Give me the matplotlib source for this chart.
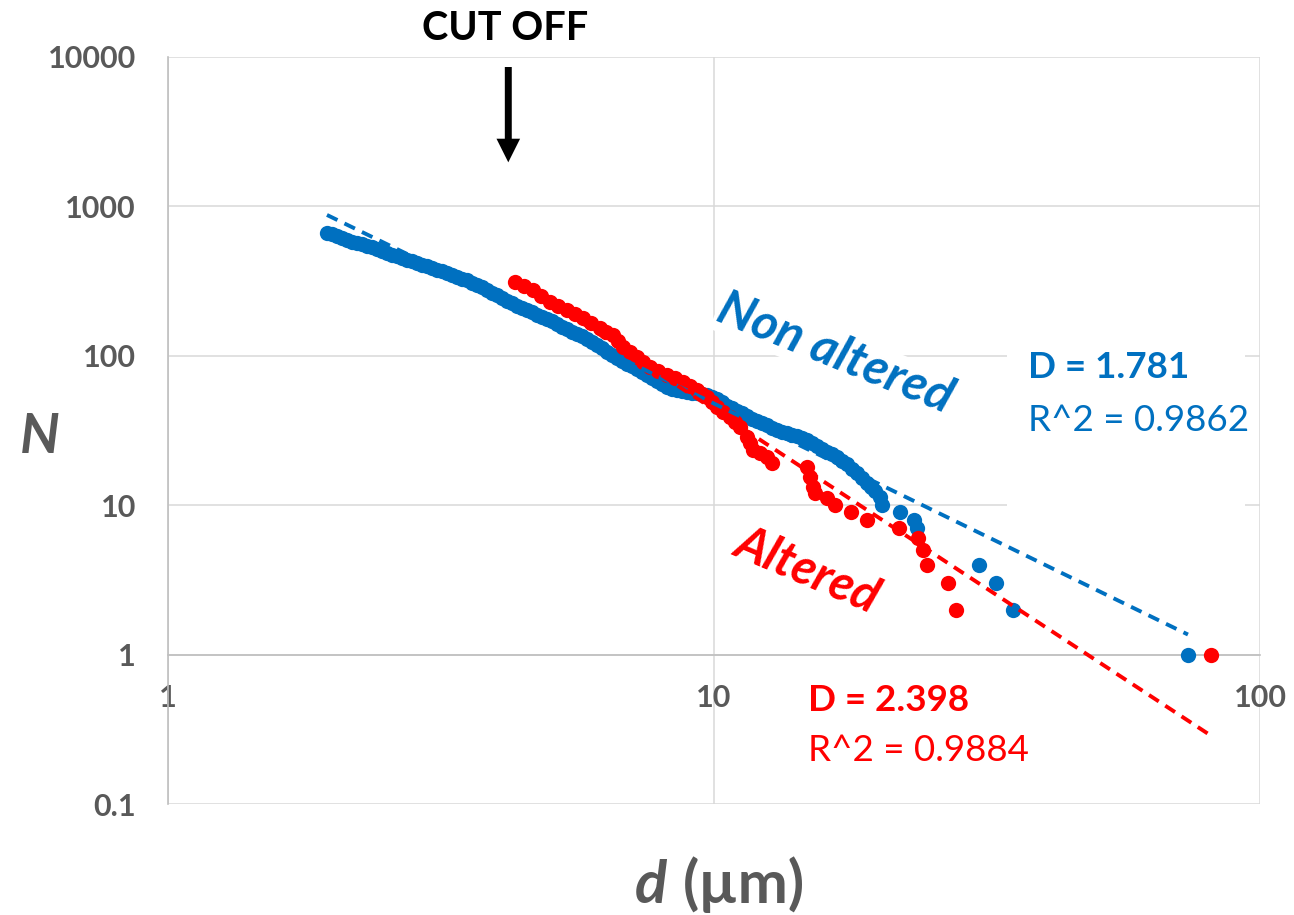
import numpy as np
import matplotlib.pyplot as plt
from matplotlib.patches import Rectangle
from matplotlib.ticker import NullLocator

plt.rcParams['font.family'] = ['Lato', 'DejaVu Sans']

# Non altered grains: diameter d (um) and cumulative number N
d_non = [1.955, 1.997, 2.040, 2.083, 2.127, 2.173, 2.219, 2.266, 2.314, 2.364,
         2.414, 2.466, 2.518, 2.572, 2.627, 2.683, 2.740, 2.798, 2.858, 2.919,
         2.981, 3.045, 3.110, 3.176, 3.243, 3.313, 3.383, 3.455, 3.529, 3.604,
         3.681, 3.760, 3.840, 3.922, 4.005, 4.090, 4.178, 4.266, 4.358, 4.451,
         4.546, 4.642, 4.742, 4.842, 4.946, 5.050, 5.160, 5.268, 5.382, 5.495,
         5.614, 5.731, 5.856, 5.979, 6.108, 6.236, 6.368, 6.505, 6.643, 6.785,
         6.930, 7.077, 7.228, 7.382, 7.540, 7.700, 7.864, 8.033, 8.203, 8.379,
         8.557, 8.740, 8.925, 9.116, 9.309, 9.507, 9.710, 9.916, 10.13, 10.34,
         10.56, 10.79, 11.02, 11.25, 11.49, 11.74, 11.99, 12.24, 12.50, 12.77,
         13.04, 13.32, 13.60, 13.90, 14.19, 14.50, 14.80, 15.12, 15.44, 15.77,
         16.11, 16.45, 16.80, 17.16, 17.52, 17.89, 18.28, 18.67, 19.06, 19.39,
         19.72, 20.14, 20.31, 21.9, 23.2, 23.5, 30.6, 32.9, 35.3, 73.8]
n_non = [664, 649, 634, 614, 596, 582, 569, 556, 543, 531,
         519, 503, 488, 476, 466, 451, 438, 428, 418, 408,
         399, 387, 375, 367, 358, 347, 337, 329, 322, 309,
         298, 287, 276, 265, 255, 244, 233, 224, 215, 209,
         203, 195, 188, 182, 176, 170, 163, 157, 151, 145,
         140, 135, 130, 124, 118, 112, 106, 101, 96.7, 92.3,
         88.1, 84.8, 81.6, 77.9, 74.4, 71.0, 67.8, 64.7, 61.8, 60.4,
         59.0, 58.1, 57.2, 56.8, 56.4, 55.5, 54.7, 53.0, 51.4, 48.7,
         46.1, 44.4, 42.7, 41.1, 39.5, 38.0, 36.6, 35.5, 34.4, 33.1,
         31.9, 31.1, 30.4, 29.7, 29.0, 28.2, 27.3, 26.1, 24.9, 23.8,
         22.7, 21.9, 21.0, 19.9, 18.9, 17.6, 16.4, 15.2, 14.1, 13.2,
         12.4, 11.3, 10, 9, 8, 7, 4, 3, 2, 1]

# Altered grains
d_alt = [4.32, 4.487, 4.66, 4.823, 5.01, 5.182, 5.38, 5.566, 5.76, 5.953,
         6.18, 6.342, 6.53, 6.672, 6.81, 7.019, 7.23, 7.413, 7.63, 7.898,
         8.20, 8.484, 8.77, 9.036, 9.31, 9.507, 9.71, 9.916, 10.13, 10.38,
         10.70, 10.93, 11.16, 11.49, 11.64, 11.79, 12.14, 12.50, 12.77, 14.80,
         14.99, 15.18, 15.31, 16.11, 16.66, 17.8, 19.1, 21.8, 23.6, 24.1,
         24.6, 26.8, 27.7, 81.3]
n_alt = [312, 293, 276, 251, 229, 215, 203, 190, 179, 166,
         153, 145, 138, 126, 115, 106, 98.2, 90.9, 84.1, 79.1,
         74.4, 70.5, 66.8, 62.8, 59.0, 55.9, 53.0, 49.1, 45.4, 42.1,
         38.9, 36.1, 33.4, 28.6, 26.0, 23.4, 22.2, 21.0, 19.2, 18.0,
         15.4, 13.2, 12.1, 11.2, 10, 9, 8, 7, 6, 5,
         4, 3, 2, 1]

# power-law fits N = A * d^-D
D_non, A_non, r2_non = 1.781, 2893.0, 0.9862
D_alt, A_alt, r2_alt = 2.398, 10915.0, 0.9884
cutoff_d = 4.2

x_ticks = [1, 10, 100]
x_labels = ['1', '10', '100']
y_ticks = [0.1, 1, 10, 100, 1000, 10000]
y_labels = ['0.1', '1', '10', '100', '1000', '10000']

blue = '#0070C0'
red = '#FF0000'
gray = '#595959'

fig = plt.figure(figsize=(12.94, 9.15), dpi=100)
ax = fig.add_axes([168/1294, 1-804/915, 1092/1294, 747/915])
ax.set_xscale('log')
ax.set_yscale('log')
ax.set_xlim(1, 100)
ax.set_ylim(0.1, 10000)

for s in ['top', 'right']:
    ax.spines[s].set_visible(False)
ax.spines['bottom'].set_position(('data', 1))
ax.spines['bottom'].set_color('#BFBFBF')
ax.spines['bottom'].set_linewidth(1.2)
ax.spines['left'].set_color('#BFBFBF')
ax.spines['left'].set_linewidth(1.2)

ax.grid(True, which='major', color='#D9D9D9', lw=1.1)
ax.set_axisbelow(True)
ax.xaxis.set_minor_locator(NullLocator())
ax.yaxis.set_minor_locator(NullLocator())
ax.set_xticks(x_ticks, labels=x_labels)
ax.set_yticks(y_ticks, labels=y_labels)
ax.tick_params(axis='both', length=0, labelsize=22, labelcolor=gray)
ax.tick_params(axis='x', pad=21)
ax.tick_params(axis='y', pad=23)
for lab in ax.get_xticklabels() + ax.get_yticklabels():
    lab.set_fontweight('bold')

# white text box hiding the grid behind the blue label
ax.add_patch(Rectangle((0.768, 0.38), 0.218, 0.241, transform=ax.transAxes,
                       facecolor='white', edgecolor='none', zorder=2))

ax.plot(d_non, n_non, 'o', color=blue, ms=11, mew=0, zorder=3)
ax.plot(d_alt, n_alt, 'o', color=red, ms=11, mew=0, zorder=4)

fx = np.array([min(d_non), max(d_non)])
ax.plot(fx, A_non * fx**-D_non, color=blue, lw=2.8, ls=(0, (3, 2)), zorder=5)
fx = np.array([min(d_alt), max(d_alt)])
ax.plot(fx, A_alt * fx**-D_alt, color=red, lw=2.8, ls=(0, (3, 2)), zorder=5)

ax.text(0.788, 0.584, f'D = {D_non}', transform=ax.transAxes, color=blue,
        fontsize=26.5, fontweight='bold', va='center', zorder=6)
ax.text(0.788, 0.514, f'R^2 = {r2_non}', transform=ax.transAxes, color=blue,
        fontsize=26.5, va='center', zorder=6)
ax.text(0.586, 0.139, f'D = {D_alt}', transform=ax.transAxes, color=red,
        fontsize=26.5, fontweight='bold', va='center', zorder=6)
ax.text(0.586, 0.072, f'R^2 = {r2_alt}', transform=ax.transAxes, color=red,
        fontsize=26.5, va='center', zorder=6)

ax.text(0.611, 0.603, 'Non altered', transform=ax.transAxes, color=blue,
        fontsize=36, fontweight='bold', fontstyle='italic', rotation=-22,
        ha='center', va='center', rotation_mode='anchor', zorder=6,
        bbox=dict(facecolor='white', edgecolor='none', pad=1))
ax.text(0.586, 0.313, 'Altered', transform=ax.transAxes, color=red,
        fontsize=35, fontweight='bold', fontstyle='italic', rotation=-23,
        ha='center', va='center', rotation_mode='anchor', zorder=6)

ax.annotate('', xy=(cutoff_d, 0.859), xytext=(cutoff_d, 0.9866),
            xycoords=('data', 'axes fraction'), textcoords=('data', 'axes fraction'),
            arrowprops=dict(facecolor='black', edgecolor='none', width=5,
                            headwidth=17, headlength=17, shrink=0),
            annotation_clip=False)
fig.text(505/1294, 1-29/915, 'CUT OFF', ha='center', va='center',
         fontsize=28.5, fontweight='bold', color='black')

fig.text(40/1294, 1-437/915, 'N', ha='center', va='center', fontsize=40,
         fontweight='bold', fontstyle='italic', color=gray)
fig.text(667/1294, 1-903/915, 'd', ha='right', va='baseline', fontsize=43,
         fontweight='bold', fontstyle='italic', color=gray)
fig.text(683/1294, 1-903/915, '(µm)', ha='left', va='baseline', fontsize=43,
         fontweight='bold', color=gray)

fig.savefig('out.png', dpi=100)
